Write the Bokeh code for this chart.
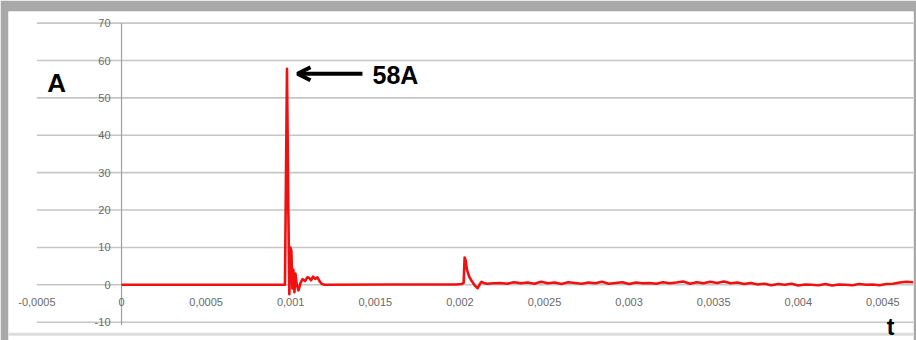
from bokeh.plotting import figure
from bokeh.models import Range1d, Arrow, OpenHead
from bokeh.core.properties import value
from bokeh.embed import file_html
from bokeh.resources import INLINE

# ---- data ----
x_ticks = [-0.0005, 0, 0.0005, 0.001, 0.0015, 0.002, 0.0025, 0.003, 0.0035, 0.004, 0.0045]
x_tick_labels = ["-0,0005", "0", "0,0005", "0,001", "0,0015", "0,002", "0,0025",
                 "0,003", "0,0035", "0,004", "0,0045"]
y_ticks = [-10, 0, 10, 20, 30, 40, 50, 60, 70]
y_tick_labels = ["-10", "0", "10", "20", "30", "40", "50", "60", "70"]

# main pulse around 1 ms
time_pulse = [0, 0.000966, 0.000978, 0.000986, 0.000992, 0.000998, 0.001004, 0.00101,
              0.001016, 0.001022, 0.001028, 0.001036, 0.001046, 0.001058, 0.00107,
              0.001085, 0.001098, 0.00111, 0.00112, 0.001132, 0.001145, 0.001158,
              0.00117, 0.001185, 0.0012, 0.0016, 0.00198]
current_pulse = [0, 0, 57.8, 20, -2.5, 10, 9, -1, 4, -2, 3, 0, -1.5, 0.5, 1.5,
                 1, 2, 1.8, 1.2, 2.2, 1.6, 2, 1, 0.2, 0, 0.1, 0.1]

# second pulse around 2 ms
time_echo = [0.00201, 0.002022, 0.002028, 0.002034, 0.002042, 0.002055, 0.00207,
             0.002088, 0.002105, 0.002118, 0.002128, 0.00214, 0.00216, 0.0022]
current_echo = [0.2, 0.5, 7.3, 6.5, 4, 2.2, 1, -0.2, -0.9, 0.2, 0.8, 0.5, 0.3, 0.4]

# noisy tail
time_tail = [0.00224, 0.00228, 0.00232, 0.00236, 0.0024, 0.00244, 0.00248, 0.00252,
             0.00256, 0.0026, 0.00264, 0.00268, 0.00272, 0.00276, 0.0028, 0.00284,
             0.00288, 0.00292, 0.00296, 0.003, 0.00304, 0.00308, 0.00312, 0.00316,
             0.0032, 0.00324, 0.00328, 0.00332, 0.00336, 0.0034, 0.00344, 0.00348,
             0.00352, 0.00356, 0.0036, 0.00364, 0.00368, 0.00372, 0.00376, 0.0038,
             0.00384, 0.00388, 0.00392, 0.00396, 0.004, 0.00404, 0.00408, 0.00412,
             0.00416, 0.0042, 0.00424, 0.00428, 0.00432, 0.00436, 0.0044, 0.00444,
             0.00448, 0.00452, 0.00456, 0.0046, 0.00464, 0.00468]
current_tail = [0.5, 0.3, 0.7, 0.4, 0.6, 0.3, 0.8, 0.4, 0.6, 0.2, 0.7, 0.5, 0.3, 0.6,
                0.4, 0.8, 0.3, 0.5, 0.7, 0.2, 0.6, 0.4, 0.5, 0.3, 0.7, 0.4, 0.6, 0.9,
                0.3, 0.7, 0.4, 0.8, 0.5, 0.9, 0.4, 0.6, 0.2, 0.5, 0.1, 0.3, -0.1, 0.2,
                0.0, 0.3, -0.2, 0.1, 0.0, -0.1, 0.2, -0.2, 0.1, 0.0, -0.1, 0.2, 0.0,
                0.1, -0.1, 0.2, 0.3, 0.6, 0.8, 0.7]

peak_time = 0.000978
peak_value = 58
peak_label = "58A"
y_label = "A"
x_label = "t"

time = time_pulse + time_echo + time_tail
current = current_pulse + current_echo + current_tail

# ---- figure ----
GRAY = "#a9a9a9"
p = figure(width=916, height=340, output_backend="svg", toolbar_location=None,
           x_range=Range1d(-0.000668, 0.004681), y_range=Range1d(-14.90, 73.12),
           x_axis_location=None, y_axis_location=None,
           min_border_left=8, min_border_right=3, min_border_top=11, min_border_bottom=0)
p.grid.visible = False
p.outline_line_color = None
p.background_fill_color = "white"
p.border_fill_color = GRAY

# gridlines (from the first category line to the right)
n = len(y_ticks)
p.segment(x0=[x_ticks[0]] * n, x1=[0.0049] * n, y0=y_ticks, y1=y_ticks,
          line_color="#c6c6c6", line_width=1.6)
# faint band near the bottom edge
p.segment(x0=[-0.0007], x1=[0.0049], y0=[-13.2], y1=[-13.2],
          line_color="#dcdcdc", line_width=3)
# vertical axis at x = 0
p.segment(x0=[0], x1=[0], y0=[y_ticks[0] - 0.8], y1=[y_ticks[-1]],
          line_color="#a0a0a0", line_width=1.2)

# signal
p.line(time, current, line_color="#f01010", line_width=2.6, line_join="round")

# tick labels
p.text(x=x_ticks, y=[-4.7] * len(x_ticks), text=x_tick_labels,
       text_align="center", text_baseline="middle",
       text_font=value("Liberation Sans"), text_font_size="11px", text_color="#6a6a6a")
p.text(x=[-0.000065] * n, y=y_ticks, text=y_tick_labels,
       text_align="right", text_baseline="middle",
       text_font=value("Liberation Sans"), text_font_size="11px", text_color="#6a6a6a")

# annotations
p.text(x=[-0.000384], y=[53.9], text=[y_label], text_align="center", text_baseline="middle",
       text_font=value("Liberation Sans"), text_font_style="bold", text_font_size="26px",
       text_color="black")
p.text(x=[0.001619], y=[peak_value - 2.0], text=[peak_label], text_align="center",
       text_baseline="middle", text_font=value("Liberation Sans"), text_font_style="bold",
       text_font_size="25px", text_color="black")
p.text(x=[0.004545], y=[-14.85], text=[x_label], text_align="center", text_baseline="bottom",
       text_font=value("Liberation Sans"), text_font_style="bold", text_font_size="23px",
       text_color="black")
p.add_layout(Arrow(end=OpenHead(size=13, line_width=4, line_color="black"),
                   x_start=0.001424, y_start=peak_value - 1.55,
                   x_end=peak_time + 0.000062, y_end=peak_value - 1.55,
                   line_width=4, line_color="black"))

open("out.html", "w").write(file_html(p, INLINE))
